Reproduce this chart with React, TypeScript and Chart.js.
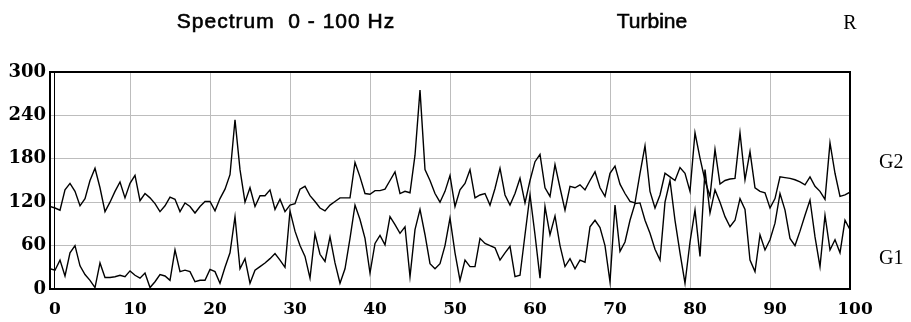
import React, { useEffect, useRef } from "react";
import { Chart, registerables } from "chart.js";

Chart.register(...registerables);

// Frequency resolution of the spectrum (Hz per bin)
const STEP_HZ = 0.625;

const TITLE_MAIN = "Spectrum  0 - 100 Hz";
const TITLE_MID = "Turbine";
const TITLE_RIGHT = "R";
const SERIES_NAMES = ["G1", "G2"];

const X_MIN = 0;
const X_MAX = 100;
const X_STEP = 10;
const Y_MIN = 0;
const Y_MAX = 300;
const Y_STEP = 60;

// G2 amplitude per bin (upper trace)
const G2 = [
  114, 112, 109, 137, 146, 135, 115, 125, 150, 167,
  140, 107, 120, 135, 148, 126, 146, 157, 122, 132,
  126, 118, 107, 115, 127, 124, 107, 119, 114, 105,
  114, 121, 121, 108, 125, 138, 158, 234, 165, 120,
  140, 114, 129, 129, 137, 110, 124, 107, 116, 118,
  138, 142, 129, 121, 112, 108, 116, 121, 126, 126,
  126, 175, 155, 132, 131, 136, 136, 138, 150, 162,
  132, 135, 133, 185, 275, 165, 150, 132, 120, 135,
  157, 114, 137, 146, 165, 126, 130, 132, 116, 139,
  167, 130, 116, 132, 153, 119, 150, 176, 186, 140,
  128, 172, 140, 109, 142, 140, 144, 137, 150, 162,
  140, 128, 160, 170, 145, 132, 121, 119, 160, 198,
  135, 112, 130, 160, 155, 150, 168, 160, 135, 216,
  181, 150, 128, 193, 145, 150, 152, 153, 216, 151,
  190, 140, 135, 133, 112, 125, 155, 154, 153, 151,
  148, 144, 155, 142, 135, 124, 202, 160, 128, 130,
  134,
];

// G1 amplitude per bin (lower trace)
const G1 = [
  28, 26, 40, 18, 50, 60, 32, 20, 12, 2,
  36, 16, 16, 17, 19, 17, 25, 19, 15, 22,
  2, 10, 20, 18, 12, 54, 24, 26, 24, 10,
  12, 12, 27, 24, 8, 30, 50, 100, 28, 42,
  8, 26, 31, 36, 42, 49, 40, 30, 108, 80,
  60, 45, 15, 76, 48, 38, 72, 36, 8, 28,
  70, 116, 96, 70, 22, 63, 74, 61, 100, 89,
  77, 86, 17, 82, 110, 75, 35, 28, 35, 60,
  98, 50, 12, 40, 31, 31, 70, 63, 60, 57,
  40, 50, 59, 17, 19, 75, 130, 75, 15, 114,
  75, 101, 60, 31, 42, 28, 40, 37, 86, 95,
  85, 60, 10, 116, 52, 65, 95, 118, 119, 95,
  77, 55, 40, 120, 150, 95, 50, 8, 65, 109,
  45, 165, 105, 137, 120, 100, 86, 95, 125, 110,
  40, 24, 75, 54, 68, 91, 132, 109, 70, 60,
  80, 102, 123, 72, 31, 102, 54, 68, 50, 95,
  82,
];

const toPoints = (vals: number[]) => vals.map((v, i) => ({ x: i * STEP_HZ, y: v }));

const overlayPlugin = {
  id: "overlay",
  afterDraw(chart: any) {
    const { ctx, chartArea } = chart;
    const { left, top, right, bottom } = chartArea;
    ctx.save();
    // frame
    ctx.strokeStyle = "#000";
    ctx.lineWidth = 2;
    ctx.strokeRect(left, top, right - left, bottom - top);
    ctx.lineWidth = 1;
    ctx.beginPath();
    ctx.moveTo(left + 4.5, top);
    ctx.lineTo(left + 4.5, bottom);
    ctx.stroke();

    // titles (medium weight: fill plus a thin outline)
    ctx.fillStyle = "#000";
    ctx.strokeStyle = "#000";
    ctx.lineWidth = 0.6;
    ctx.textBaseline = "alphabetic";
    ctx.textAlign = "center";
    ctx.font = "21px 'Liberation Sans', Arial, sans-serif";
    (ctx as any).letterSpacing = "1px";
    ctx.fillText(TITLE_MAIN, 286, 28);
    ctx.strokeText(TITLE_MAIN, 286, 28);
    (ctx as any).letterSpacing = "0px";
    ctx.fillText(TITLE_MID, 652, 28);
    ctx.strokeText(TITLE_MID, 652, 28);
    ctx.font = "20px 'Liberation Serif', 'Times New Roman', serif";
    ctx.fillText(TITLE_RIGHT, 850, 29);

    // series labels on the right
    ctx.textAlign = "left";
    ctx.font = "20px 'Liberation Serif', 'Times New Roman', serif";
    ctx.fillText(SERIES_NAMES[1], 879, 168);
    ctx.fillText(SERIES_NAMES[0], 879, 264);
    ctx.restore();
  },
};

export default function App() {
  const ref = useRef<HTMLCanvasElement | null>(null);

  useEffect(() => {
    if (!ref.current) return;
    const xFont = { family: "'DejaVu Serif', serif", weight: "bold" as const, size: 17 };
    const yFont = { family: "'DejaVu Serif', serif", weight: "bold" as const, size: 18 };
    const chart = new Chart(ref.current, {
      type: "line",
      data: {
        datasets: [
          {
            label: SERIES_NAMES[1],
            data: toPoints(G2),
            borderColor: "#000",
            borderWidth: 1.4,
            pointRadius: 0,
            tension: 0,
            fill: false,
          },
          {
            label: SERIES_NAMES[0],
            data: toPoints(G1),
            borderColor: "#000",
            borderWidth: 1.4,
            pointRadius: 0,
            tension: 0,
            fill: false,
          },
        ],
      },
      options: {
        animation: false,
        responsive: false,
        maintainAspectRatio: false,
        layout: { padding: { left: 0, right: 61, top: 72, bottom: 0 } },
        plugins: {
          legend: { display: false },
          tooltip: { enabled: false },
          title: { display: false },
        },
        scales: {
          x: {
            type: "linear",
            min: X_MIN,
            max: X_MAX,
            afterFit(scale: any) {
              scale.height = 33;
            },
            ticks: {
              stepSize: X_STEP,
              labelOffset: 5,
              padding: 10,
              color: "#000",
              font: xFont,
              maxRotation: 0,
              autoSkip: false,
            },
            grid: { color: "#bdbdbd", lineWidth: 1, drawTicks: false },
            border: { display: false },
          },
          y: {
            min: Y_MIN,
            max: Y_MAX,
            afterFit(scale: any) {
              scale.width = 50;
            },
            ticks: {
              stepSize: Y_STEP,
              padding: 4,
              color: "#000",
              font: yFont,
            },
            grid: { color: "#bdbdbd", lineWidth: 1, drawTicks: false },
            border: { display: false },
          },
        },
      },
      plugins: [overlayPlugin],
    });
    return () => chart.destroy();
  }, []);

  return (
    <div style={{ position: "absolute", left: 0, top: 0, width: 911, height: 322, background: "#fff" }}>
      <canvas ref={ref} width={911} height={322} style={{ width: 911, height: 322, display: "block" }} />
    </div>
  );
}
